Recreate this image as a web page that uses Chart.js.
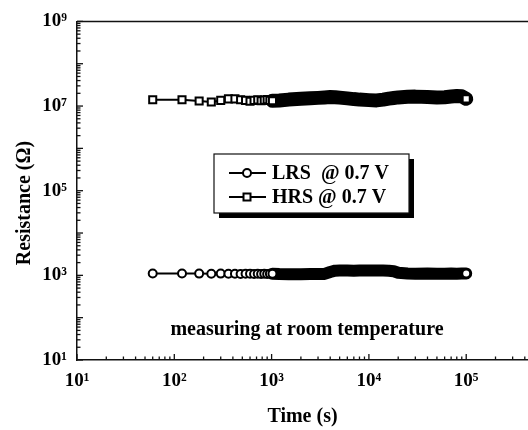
<!DOCTYPE html>
<html>
<head>
<meta charset="utf-8">
<script src="https://cdn.jsdelivr.net/npm/chart.js@4.4.0/dist/chart.umd.min.js"></script>
<style>
  html, body { margin: 0; padding: 0; background: #fff; }
</style>
</head>
<body>
<canvas id="resChart" width="528" height="430"></canvas>
<script>
// measurement times (s)
const timeSec = [60, 120, 180, 240, 300, 360, 420, 480, 540, 600, 660, 720, 780, 840, 900, 960, 1020,
  1200, 1500, 2000, 2500, 3000, 3500, 4000, 4500, 5000, 6000, 7000, 8000, 10000, 12000, 14000, 16000,
  18000, 20000, 25000, 30000, 40000, 50000, 60000, 70000, 80000, 90000, 100000];

// low resistance state (ohm)
const lrsOhm = [1110, 1110, 1100, 1090, 1100, 1090, 1090, 1080, 1090, 1090, 1080, 1090, 1080, 1090, 1080, 1090, 1090,
  1070, 1060, 1060, 1070, 1070, 1080, 1200, 1290, 1300, 1300, 1290, 1300, 1310, 1310, 1300, 1290,
  1250, 1150, 1100, 1090, 1100, 1090, 1090, 1100, 1090, 1100, 1110];

// high resistance state (ohm)
const hrsOhm = [1.41e7, 1.41e7, 1.32e7, 1.25e7, 1.36e7, 1.48e7, 1.48e7, 1.41e7, 1.36e7, 1.30e7, 1.36e7, 1.40e7, 1.34e7, 1.38e7, 1.42e7, 1.36e7, 1.33e7,
  1.35e7, 1.42e7, 1.48e7, 1.52e7, 1.56e7, 1.60e7, 1.63e7, 1.62e7, 1.58e7, 1.52e7, 1.46e7, 1.42e7, 1.38e7, 1.36e7, 1.42e7, 1.50e7,
  1.55e7, 1.60e7, 1.66e7, 1.67e7, 1.64e7, 1.60e7, 1.62e7, 1.68e7, 1.72e7, 1.70e7, 1.48e7];

const seriesLabels = ['LRS  @ 0.7 V', 'HRS @ 0.7 V'];
const xLabelExps = [1, 2, 3, 4, 5];
const yLabelExps = [1, 3, 5, 7, 9];
const noteText = 'measuring at room temperature';
const xTitle = 'Time (s)';
const yTitle = 'Resistance (\u03A9)';

const SUP = ['\u2070', '\u00B9', '\u00B2', '\u00B3', '\u2074', '\u2075', '\u2076', '\u2077', '\u2078', '\u2079'];
const FONT = '"Liberation Serif", "Times New Roman", serif';
const DENSE_FROM = 1020;   // after this the markers merge into a solid band

function logTicks(min, max) {
  const out = [];
  for (let e = Math.floor(Math.log10(min)); e <= Math.ceil(Math.log10(max)); e++) {
    for (let m = 1; m <= 9; m++) {
      const v = m * Math.pow(10, e);
      if (v >= min * 0.999 && v <= max * 1.001) out.push({ value: v });
    }
  }
  return out;
}

function decadeLabel(v, exps) {
  const e = Math.log10(v);
  const r = Math.round(e);
  if (Math.abs(e - r) < 1e-6 && exps.includes(r)) return '10' + SUP[r];
  return '';
}

function markerRadius(ctx) {
  const i = ctx.dataIndex;
  return (timeSec[i] <= DENSE_FROM || i === timeSec.length - 1) ? 4 : 0;
}

const extras = {
  id: 'extras',
  afterDraw(chart) {
    const { ctx, chartArea: a, scales } = chart;
    ctx.save();
    ctx.strokeStyle = '#111';
    ctx.lineWidth = 1.3;

    // inward tick marks
    scales.x.ticks.forEach(t => {
      const px = scales.x.getPixelForValue(t.value);
      const major = Math.abs(Math.log10(t.value) % 1) < 1e-6;
      ctx.beginPath();
      ctx.moveTo(px, a.bottom);
      ctx.lineTo(px, a.bottom - (major ? 6 : 3.5));
      ctx.stroke();
    });
    scales.y.ticks.forEach(t => {
      const py = scales.y.getPixelForValue(t.value);
      const major = Math.abs(Math.log10(t.value) % 1) < 1e-6;
      ctx.beginPath();
      ctx.moveTo(a.left, py);
      ctx.lineTo(a.left + (major ? 6 : 3.5), py);
      ctx.stroke();
    });

    // top frame line
    ctx.lineWidth = 1.5;
    ctx.beginPath();
    ctx.moveTo(a.left, a.top);
    ctx.lineTo(a.right, a.top);
    ctx.stroke();

    // legend box with drop shadow
    const bx = 214, by = 154, bw = 195, bh = 59;
    ctx.fillStyle = '#000';
    ctx.fillRect(bx + 5, by + 5, bw, bh);
    ctx.fillStyle = '#fff';
    ctx.fillRect(bx, by, bw, bh);
    ctx.lineWidth = 1.2;
    ctx.strokeRect(bx, by, bw, bh);

    chart.data.datasets.forEach((ds, k) => {
      const ry = by + 19 + k * 24;
      ctx.strokeStyle = '#000';
      ctx.lineWidth = 2;
      ctx.beginPath();
      ctx.moveTo(bx + 15, ry);
      ctx.lineTo(bx + 52, ry);
      ctx.stroke();
      ctx.fillStyle = '#fff';
      ctx.beginPath();
      if (ds.pointStyle === 'rect') {
        ctx.rect(bx + 33 - 3.5, ry - 3.5, 7, 7);
      } else {
        ctx.arc(bx + 33, ry, 4, 0, Math.PI * 2);
      }
      ctx.fill();
      ctx.stroke();
      ctx.fillStyle = '#000';
      ctx.font = 'bold 20px ' + FONT;
      ctx.textAlign = 'left';
      ctx.textBaseline = 'middle';
      ctx.fillText(ds.label, bx + 58, ry + 1);
    });

    // note inside the plot
    ctx.fillStyle = '#000';
    ctx.font = 'bold 20px ' + FONT;
    ctx.textAlign = 'center';
    ctx.textBaseline = 'middle';
    ctx.fillText(noteText, 307, 330);

    // y axis title
    ctx.translate(25, 203);
    ctx.rotate(-Math.PI / 2);
    ctx.fillText(yTitle, 0, 0);
    ctx.restore();
  }
};

const tickFont = { family: FONT, size: 19, weight: 'bold' };

new Chart(document.getElementById('resChart'), {
  type: 'line',
  data: {
    datasets: [
      {
        label: seriesLabels[0],
        data: timeSec.map((t, i) => ({ x: t, y: lrsOhm[i] })),
        borderColor: '#000',
        pointStyle: 'circle',
        pointRadius: markerRadius,
        pointBorderWidth: 2,
        pointBackgroundColor: '#fff',
        pointBorderColor: '#000',
        borderJoinStyle: 'round',
        borderCapStyle: 'round',
        segment: { borderWidth: c => c.p0.parsed.x >= DENSE_FROM ? 12 : 2 }
      },
      {
        label: seriesLabels[1],
        data: timeSec.map((t, i) => ({ x: t, y: hrsOhm[i] })),
        borderColor: '#000',
        pointStyle: 'rect',
        pointRadius: c => markerRadius(c) * 1.25,
        pointBorderWidth: 2,
        pointBackgroundColor: '#fff',
        pointBorderColor: '#000',
        borderJoinStyle: 'round',
        borderCapStyle: 'round',
        segment: { borderWidth: c => c.p0.parsed.x >= DENSE_FROM ? 14 : 2 }
      }
    ]
  },
  options: {
    responsive: false,
    animation: false,
    layout: { autoPadding: false, padding: { top: 19, right: 0, left: 0, bottom: 0 } },
    plugins: { legend: { display: false }, tooltip: { enabled: false } },
    scales: {
      x: {
        type: 'logarithmic',
        min: 10,
        max: 431500,
        afterBuildTicks: s => { s.ticks = logTicks(s.min, s.max); },
        afterFit: s => { s.height = 70; s.paddingLeft = 0; s.paddingRight = 0; },
        ticks: {
          autoSkip: false, maxRotation: 0, padding: 10, color: '#000', font: tickFont,
          callback: v => decadeLabel(v, xLabelExps)
        },
        grid: { drawOnChartArea: false, drawTicks: false },
        border: { color: '#111', width: 1.5 },
        title: {
          display: true, text: xTitle, color: '#000', padding: 1,
          font: { family: FONT, size: 20, weight: 'bold' }
        }
      },
      y: {
        type: 'logarithmic',
        min: 10,
        max: 1e9,
        afterBuildTicks: s => { s.ticks = logTicks(s.min, s.max); },
        afterFit: s => { s.width = 77; },
        ticks: {
          autoSkip: false, padding: 10, color: '#000', font: tickFont,
          callback: v => decadeLabel(v, yLabelExps)
        },
        grid: { drawOnChartArea: false, drawTicks: false },
        border: { color: '#111', width: 1.5 }
      }
    }
  },
  plugins: [extras]
});
</script>
</body>
</html>
